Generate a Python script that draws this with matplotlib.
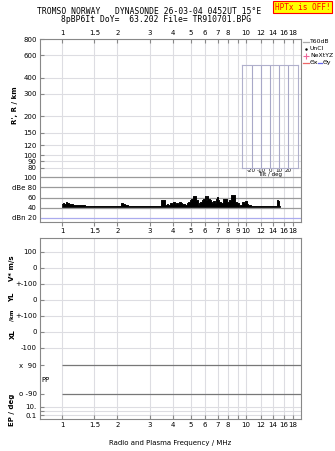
import numpy as np
import matplotlib.pyplot as plt
from matplotlib.lines import Line2D

# frequency axis
f_ticks = [1, 1.5, 2, 3, 4, 5, 6, 7, 8, 9, 10, 12, 14, 16, 18]
f_labels_top = ['1', '1.5', '2', '3', '4', '5', '6', '7', '8', '', '10', '12', '14', '16', '18']
f_labels_mid = ['1', '1.5', '2', '3', '4', '5', '6', '7', '8', '9', '10', '12', '14', '16', '18']

# range axis (km)
h_ticks = [80, 90, 100, 120, 150, 200, 300, 400, 600, 800]

# dB panel
db_ticks = [20, 40, 60, 80, 100]
db_labels = ['dBn 20', '40', '60', 'dBe 80', '100']

# noise/echo amplitude vs frequency
freq = [1.00, 1.02, 1.04, 1.06, 1.08, 1.10, 1.13, 1.16, 1.20, 1.24, 1.28, 1.32,
        1.36, 1.42, 1.48, 1.55, 1.62, 1.70, 1.78, 1.86, 1.95, 2.05, 2.12, 2.18,
        2.24, 2.30, 2.40, 2.50, 2.60, 2.70, 2.80, 2.90, 3.00, 3.10, 3.20, 3.30,
        3.40, 3.50, 3.58, 3.66, 3.74, 3.82, 3.90, 3.98, 4.06, 4.14, 4.22, 4.30,
        4.38, 4.46, 4.54, 4.62, 4.70, 4.80, 4.90, 5.00, 5.10, 5.20, 5.30, 5.40,
        5.50, 5.60, 5.70, 5.80, 5.90, 6.00, 6.10, 6.20, 6.30, 6.40, 6.50, 6.60,
        6.70, 6.80, 6.90, 7.00, 7.10, 7.20, 7.40, 7.60, 7.80, 8.00, 8.20, 8.40,
        8.60, 8.80, 9.00, 9.20, 9.40, 9.60, 9.80, 10.00, 10.20, 10.40, 10.80,
        11.20, 11.60, 12.00, 12.50, 13.00, 13.50, 14.00, 14.50, 14.80, 15.00, 15.20]
db = [48, 50, 47, 51, 49, 48, 47, 46, 46, 45, 46, 45,
      43, 43, 44, 43, 43, 43, 43, 43, 43, 44, 49, 48,
      45, 43, 43, 44, 43, 43, 44, 43, 43, 44, 43, 43,
      44, 56, 56, 45, 47, 46, 49, 47, 52, 48, 50, 47,
      51, 49, 47, 48, 45, 50, 52, 55, 58, 63, 63, 55,
      45, 49, 52, 55, 57, 62, 56, 63, 58, 55, 52, 50,
      53, 50, 58, 61, 55, 52, 50, 58, 57, 51, 55, 64,
      64, 52, 50, 44, 46, 52, 50, 53, 48, 45, 44,
      43, 43, 44, 43, 43, 43, 43, 44, 55, 53, 43]

# bottom panel rows
b_ticks = [13.7, 30, 46, 62, 78, 94, 109.7, 127, 156, 168.7, 173, 177]
b_labels = ['100', '0', '+-100', '0', '+-100', '0', '-100', 'x  90', 'o -90', '10.', '', '0.1']

tilt_ticks = [-20, -10, 0, 10, 20]

W, H = 335, 451
fig = plt.figure(figsize=(W / 100, H / 100), dpi=100)
plt.rcParams['font.family'] = ['DejaVu Sans']

def box(x0, y0, x1, y1):
    return [x0 / W, 1 - y1 / H, (x1 - x0) / W, (y1 - y0) / H]

grid_c = '#dddde2'
spine_c = '#888888'
fs = 5.0

def style(ax):
    for s in ax.spines.values():
        s.set_color(spine_c)
        s.set_linewidth(0.8)
    ax.set_xscale('log')
    ax.set_xlim(0.755, 20.0)
    ax.set_xticks(f_ticks)
    ax.minorticks_off()
    ax.tick_params(axis='both', direction='in', length=3, width=0.8, color=spine_c,
                   labelsize=fs, pad=2)
    for f in f_ticks:
        ax.axvline(f, color=grid_c, lw=0.8, zorder=0)

# range panel
ax1 = fig.add_axes(box(39.5, 39, 301.5, 171))
style(ax1)
ax1.set_yscale('log')
ax1.set_ylim(75.4, 800)
ax1.set_yticks(h_ticks)
ax1.set_yticklabels([str(v) for v in h_ticks])
ax1.minorticks_off()
for h in h_ticks:
    ax1.axhline(h, color=grid_c, lw=0.8, zorder=0)
ax1.xaxis.tick_top()
ax1.set_xticklabels(f_labels_top)
ax1.spines['bottom'].set_visible(False)
ax1.set_ylabel("R', R / km", fontsize=fs, fontweight='bold', labelpad=4)

# dB panel
ax2 = fig.add_axes(box(39.5, 171, 301.5, 222))
style(ax2)
ax2.set_ylim(11.5, 112.5)
ax2.set_yticks(db_ticks)
ax2.set_yticklabels(db_labels)
ax2.tick_params(axis='y', length=0)
ax2.set_xticklabels(f_labels_mid)
ax2.tick_params(axis='x', direction='out', pad=1.5)
ax2.spines['top'].set_visible(False)
ax2.patch.set_alpha(0)
for v in db_ticks[1:]:
    ax2.axhline(v, color='#9a9a9a', lw=0.9, zorder=1)
ax2.axhline(20, color='#aaaaee', lw=0.9, zorder=1)
ax2.fill_between(freq, 41.5, db, step='mid', color='black', lw=0.5, zorder=3)
ax2.step(freq, db, where='mid', color='black', lw=0.5, zorder=3)

# tilt inset
axt = fig.add_axes(box(241.7, 65, 297.7, 167.7))
axt.set_zorder(5)
axt.set_xlim(-30.8, 30)
axt.set_ylim(0, 1)
axt.set_yticks([])
axt.set_xticks(tilt_ticks)
axt.set_xticklabels(['-20', '-10', '0', '10', '20'])
axt.tick_params(axis='x', length=0, labelsize=4.0, pad=0.3)
for t in tilt_ticks:
    axt.axvline(t, color='#a8a8c8', lw=0.8)
for s in axt.spines.values():
    s.set_color('#b0b0cc')
    s.set_linewidth(0.8)
axt.patch.set_alpha(0)
axt.set_xlabel('Tilt / deg', fontsize=4.0, labelpad=-0.5)

# bottom panel
ax3 = fig.add_axes(box(39.5, 238, 301.5, 419))
style(ax3)
ax3.set_ylim(181, 0)
ax3.set_yticks(b_ticks)
ax3.set_yticklabels(b_labels)
ax3.set_xticklabels(f_labels_top)
ax3.tick_params(axis='x', pad=2.5)
for i, y in enumerate(b_ticks):
    if b_labels[i] in ('x  90', 'o -90'):
        ax3.hlines(y, 1, 20, color='#777777', lw=0.9, zorder=2)
    else:
        ax3.axhline(y, color=grid_c, lw=0.8, zorder=0)
ax3.set_xlabel('Radio and Plasma Frequency / MHz', fontsize=fs, labelpad=8)

# side labels of bottom panel
side = [("V* m/s", 268, fs), ("YL", 297, fs), ("/km", 315, 4.0), ("XL", 334, fs),
        ("EP / deg", 410, fs)]
for txt, yy, s in side:
    fig.text(12.5 / W, 1 - yy / H, txt, rotation=90, fontsize=s, fontweight='bold',
             ha='center', va='center')
fig.text(46 / W, 1 - 380 / H, 'PP', fontsize=fs, ha='center', va='center')

# header
mono = 'DejaVu Sans Mono'
fig.text(149.5 / W, 1 - 12 / H, 'TROMSO NORWAY   DYNASONDE 26-03-04 0452UT 15\u00b0E',
         family=mono, fontsize=5.8, ha='center', va='center')
fig.text(156 / W, 1 - 20 / H, '8pBP6It DoY=  63.202 File= TR910701.BPG',
         family=mono, fontsize=5.8, ha='center', va='center')
fig.text(302.5 / W, 1 - 7.2 / H, 'HPTx is OFF!', family=mono, fontsize=5.6,
         color='red', ha='center', va='center',
         bbox=dict(boxstyle='square,pad=0.2', fc='#ffff00', ec='red', lw=0.8))

# legend
lx0, lx1, tx = 303 / W, 309 / W, 310 / W
ly = [41.7, 48.7, 55.7, 62.7]
lfs = 4.4
fig.add_artist(Line2D([lx0, lx1], [1 - ly[0] / H] * 2, color='#aaaaaa', lw=0.9))
fig.text(tx, 1 - ly[0] / H, 'T60dB', fontsize=lfs, va='center')
fig.add_artist(Line2D([306 / W], [1 - ly[1] / H], marker='.', ms=1.5, color='black'))
fig.text(tx, 1 - ly[1] / H, 'UnCl', fontsize=lfs, va='center')
fig.add_artist(Line2D([306 / W], [1 - ly[2] / H], marker='+', ms=4, mew=0.8, color='#ee6699'))
fig.text(tx, 1 - ly[2] / H, 'NeXtYZ', fontsize=lfs, va='center')
fig.add_artist(Line2D([lx0, lx1], [1 - ly[3] / H] * 2, color='#ee6666', lw=0.9))
fig.text(tx, 1 - ly[3] / H, '\u0398x', fontsize=lfs, va='center')
fig.add_artist(Line2D([318 / W, 322 / W], [1 - ly[3] / H] * 2, color='#6666ee', lw=0.9))
fig.text(323 / W, 1 - ly[3] / H, '\u0398y', fontsize=lfs, va='center')

fig.savefig('out.png', dpi=100)
